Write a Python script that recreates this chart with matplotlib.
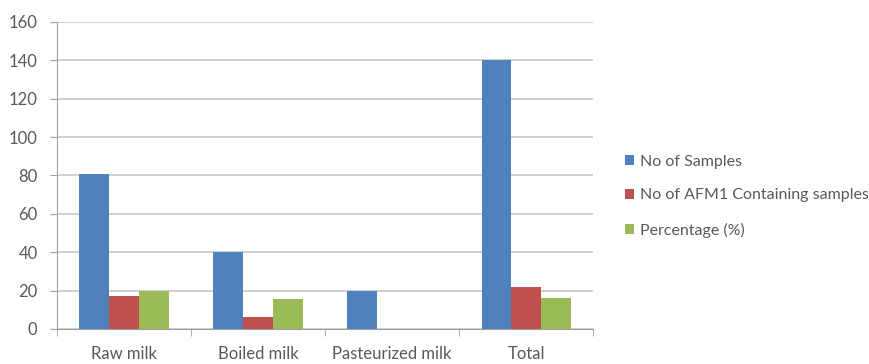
import numpy as np
import matplotlib.pyplot as plt

categories = ['Raw milk', 'Boiled milk', 'Pasteurized milk', 'Total']
n_samples = [81, 40, 20, 140]
n_afm1 = [17, 6, 0, 22]
percentage = [20, 15.5, 0, 16]
series_names = ['No of Samples', 'No of AFM1 Containing samples', 'Percentage (%)']
colors = ['#4F81BD', '#C0504D', '#9BBB59']

plt.rcParams['font.family'] = ['Lato', 'DejaVu Sans']
text_color = '#595959'
grid_color = '#C8C8C8'

fig = plt.figure(figsize=(8.69, 3.64), dpi=100)
ax = fig.add_axes([0.0656, 0.0962, 0.617, 0.8434])

x = np.arange(len(categories))
w = 0.222
for i, (vals, name) in enumerate(zip([n_samples, n_afm1, percentage], series_names)):
    ax.bar(x + (i - 1) * w, vals, width=w, color=colors[i], label=name, zorder=3)

ax.set_xlim(-0.5, len(categories) - 0.5)
ax.set_ylim(0, 160)
ax.set_yticks(np.arange(0, 161, 20))
ax.yaxis.grid(True, color=grid_color, linewidth=1.2, zorder=0)

ax.set_xticks(x)
ax.set_xticklabels(categories)
ax.set_xticks(np.arange(-0.5, len(categories), 1), minor=True)
ax.tick_params(axis='x', which='major', length=0, pad=12, labelsize=12, labelcolor=text_color)
ax.tick_params(axis='x', which='minor', length=5, color='#A0A0A0', direction='out')
ax.tick_params(axis='y', length=5, color='#A0A0A0', pad=9, labelsize=12, labelcolor=text_color)

for side in ['top', 'right']:
    ax.spines[side].set_visible(False)
for side in ['left', 'bottom']:
    ax.spines[side].set_color('#A0A0A0')

fig.legend(loc='upper left', bbox_to_anchor=(0.703, 0.615), frameon=False,
           fontsize=11.5, labelcolor=text_color, handlelength=0.55, handleheight=0.55,
           handletextpad=0.4, labelspacing=1.25)

fig.savefig('out.png', dpi=100)
